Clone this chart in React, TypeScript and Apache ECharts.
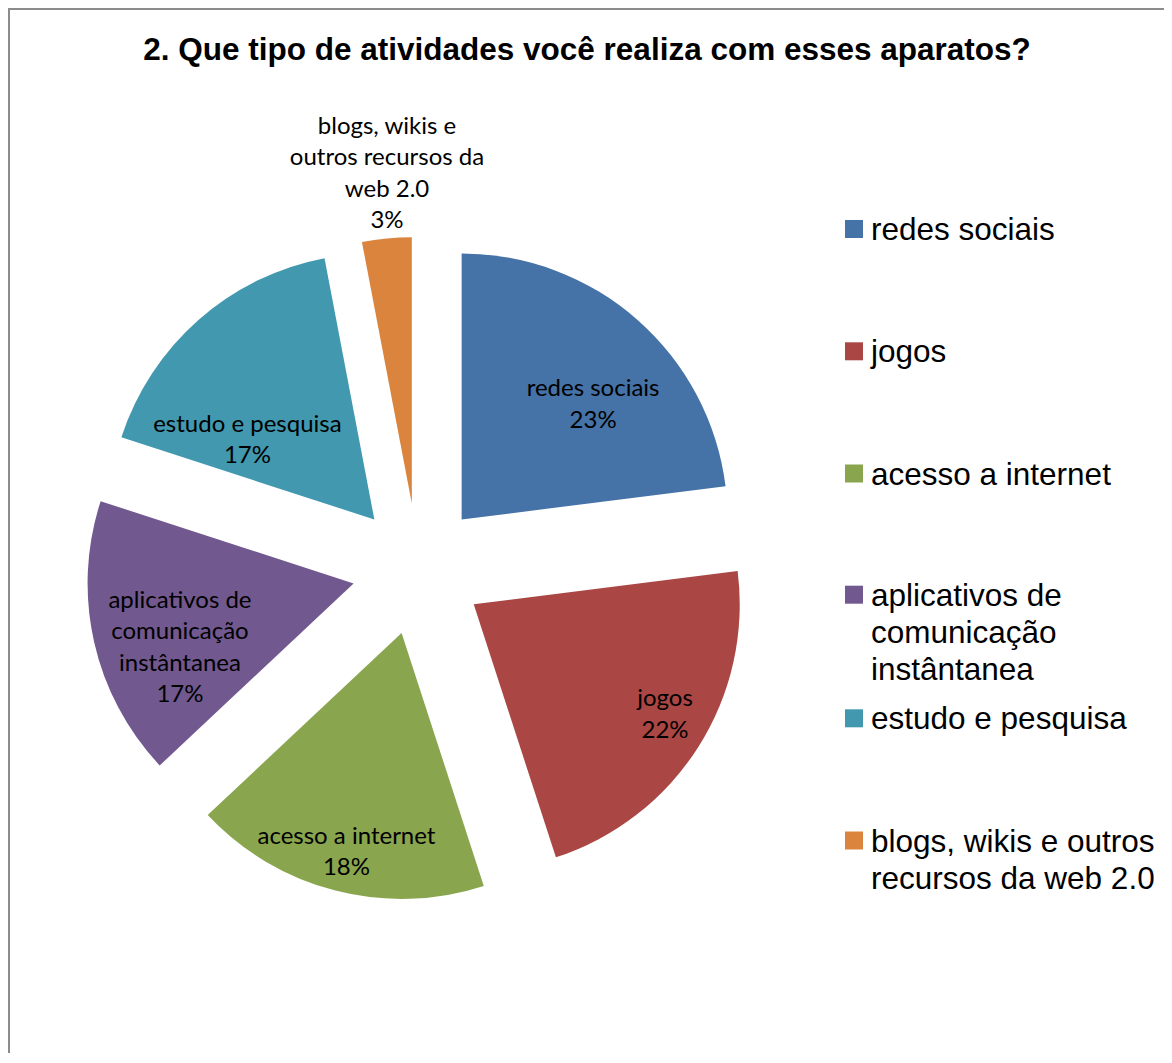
import React, { useEffect, useRef } from "react";
import * as echarts from "echarts";

// Activity categories and their share of answers (%)
const categories = [
  "redes sociais",
  "jogos",
  "acesso a internet",
  "aplicativos de comunicação instântanea",
  "estudo e pesquisa",
  "blogs, wikis e outros recursos da web 2.0",
];
const shares = [23, 22, 18, 17, 17, 3];
const sliceColors = ["#4572A7", "#AA4643", "#89A54E", "#71588F", "#4198AF", "#DB843D"];

// Line breaks used for the slice labels
const sliceLabelLines = [
  ["redes sociais"],
  ["jogos"],
  ["acesso a internet"],
  ["aplicativos de", "comunicação", "instântanea"],
  ["estudo e pesquisa"],
  ["blogs, wikis e", "outros recursos da", "web 2.0"],
];

// Line breaks used in the legend
const legendLines = [
  ["redes sociais"],
  ["jogos"],
  ["acesso a internet"],
  ["aplicativos de", "comunicação", "instântanea"],
  ["estudo e pesquisa"],
  ["blogs, wikis e outros", "recursos da web 2.0"],
];

// Label nudges (px) away from the default inside anchor of each slice
const labelNudges = [
  [41.5, -14.8],
  [76.5, 35.2],
  [-21.3, 85.4],
  [-40.9, 32.2],
  [-37, 20.5],
  [-12, -196.4],
];

// Vertical centre of each legend marker (px, chart coordinates)
const legendMarkerY = [219, 341.3, 463.5, 584.7, 708.3, 830.5];
const LEGEND_LINE = 37;

export default function App() {
  const ref = useRef<HTMLDivElement>(null);

  useEffect(() => {
    if (!ref.current) return;
    const chart = echarts.init(ref.current, undefined, { renderer: "svg" });

    // One legend per entry so that each marker sits beside the first line
    // of its (possibly wrapped) text: blank lines above balance the block.
    const legends = categories.map((name, i) => {
      const n = legendLines[i].length;
      return {
        data: [name],
        orient: "vertical",
        left: 835,
        top: legendMarkerY[i] - (n - 0.5) * LEGEND_LINE,
        padding: 0,
        itemWidth: 18,
        itemHeight: 18,
        icon: "rect",
        selectedMode: false,
        formatter: () => "\n".repeat(n - 1) + legendLines[i].join("\n"),
        textStyle: {
          fontFamily: "Liberation Sans",
          fontSize: 31.5,
          color: "#000",
          lineHeight: LEGEND_LINE,
          padding: [0, 0, 0, 3],
        },
      };
    });

    chart.setOption({
      animation: false,
      backgroundColor: "#fff",
      title: {
        text: "2. Que tipo de atividades você realiza com esses aparatos?",
        left: "center",
        top: 23,
        padding: 0,
        textStyle: {
          fontFamily: "Liberation Sans",
          fontWeight: "bold",
          fontSize: 31.5,
          color: "#000",
        },
      },
      legend: legends,
      series: [
        {
          type: "pie",
          center: [408, 559],
          radius: 266,
          startAngle: 90,
          clockwise: true,
          selectedMode: "multiple",
          selectedOffset: 66,
          avoidLabelOverlap: false,
          data: categories.map((name, i) => ({
            name,
            value: shares[i],
            selected: true,
            itemStyle: { color: sliceColors[i] },
          })),
          label: {
            show: true,
            position: "inside",
            formatter: (p: any) =>
              [...sliceLabelLines[p.dataIndex], `${p.value}%`].join("\n"),
            fontFamily: "Lato",
            fontSize: 24,
            lineHeight: 31.5,
            color: "#000",
          },
          labelLine: { show: false },
          labelLayout: (p: any) => ({
            dx: labelNudges[p.dataIndex][0],
            dy: labelNudges[p.dataIndex][1],
          }),
          itemStyle: { borderWidth: 0 },
          emphasis: { disabled: true },
          select: { itemStyle: { borderWidth: 0 } },
        },
      ],
    });

    return () => chart.dispose();
  }, []);

  return (
    <div
      style={{
        width: 1154,
        height: 1043,
        borderTop: "2px solid #8c8c8c",
        borderLeft: "2px solid #8c8c8c",
      }}
    >
      <div ref={ref} style={{ width: 1154, height: 1043 }} />
    </div>
  );
}
